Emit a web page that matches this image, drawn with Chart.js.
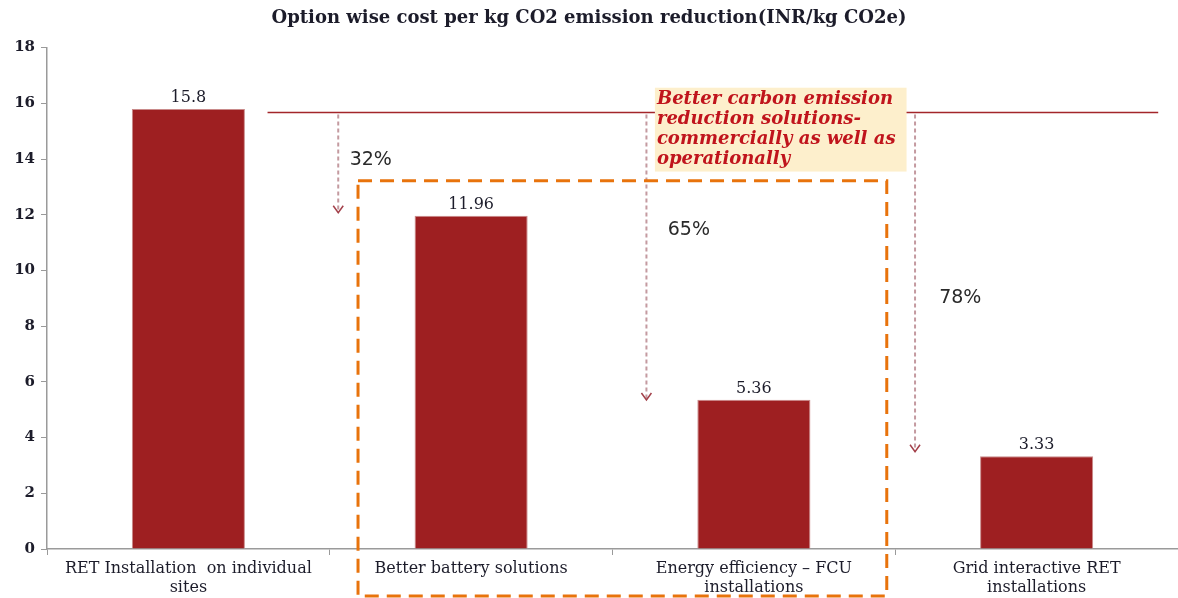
<!DOCTYPE html>
<html>
<head>
<meta charset="utf-8">
<script src="https://cdn.jsdelivr.net/npm/chart.js@4"></script>
<style>
  html, body { margin: 0; padding: 0; background: #fff; }
  #wrap { width: 1178px; height: 598px; }
</style>
</head>
<body>
<div id="wrap"><canvas id="costChart" width="1178" height="598"></canvas></div>
<script>
// Option wise cost per kg CO2 emission reduction

const optionLabels = [
  ["RET Installation  on individual", "sites"],
  ["Better battery solutions"],
  ["Energy efficiency \u2013 FCU", "installations"],
  ["Grid interactive RET", "installations"]
];
const costValues = [15.8, 11.96, 5.36, 3.33];
const costText = ["15.8", "11.96", "5.36", "3.33"];
const reductionText = ["32%", "65%", "78%"];
const yTicks = [0, 2, 4, 6, 8, 10, 12, 14, 16, 18];

const serif = "'DejaVu Serif', Georgia, serif";
const textColor = "#1c1c2a";

// annotations drawn on top of the bars (x in category units, y in axis values)
const overlayPlugin = {
  id: "overlay",
  afterDatasetsDraw(chart) {
    const ctx = chart.ctx;
    const x = chart.scales.x, y = chart.scales.y;
    const px = v => x.getPixelForValue(0) + v * (x.getPixelForValue(1) - x.getPixelForValue(0));

    // value labels over the bars
    const meta = chart.getDatasetMeta(0);
    ctx.save();
    ctx.font = "16px " + serif;
    ctx.fillStyle = textColor;
    ctx.textAlign = "center";
    ctx.textBaseline = "bottom";
    meta.data.forEach((bar, i) => {
      ctx.fillText(costText[i], bar.x, bar.y - 3);
    });

    // reference line at the first option's cost
    const topY = y.getPixelForValue(15.67);
    ctx.strokeStyle = "#a3262a";
    ctx.lineWidth = 1.5;
    ctx.beginPath();
    ctx.moveTo(px(0.28), topY);
    ctx.lineTo(px(3.43), topY);
    ctx.stroke();

    // dashed reduction arrows
    const arrows = [[0.53, 12.07], [1.62, 5.35], [2.57, 3.49]];
    arrows.forEach(a => {
      const ax = px(a[0]), ay = y.getPixelForValue(a[1]);
      ctx.strokeStyle = "#c49aa0";
      ctx.lineWidth = 2;
      ctx.setLineDash([4, 3]);
      ctx.beginPath();
      ctx.moveTo(ax, topY + 2);
      ctx.lineTo(ax, ay);
      ctx.stroke();
      ctx.setLineDash([]);
      ctx.strokeStyle = "#a3404a";
      ctx.lineWidth = 1.5;
      ctx.beginPath();
      ctx.moveTo(ax - 5, ay - 7);
      ctx.lineTo(ax, ay);
      ctx.lineTo(ax + 5, ay - 7);
      ctx.stroke();
    });

    // percentages
    const pctPos = [[0.645, 13.98], [1.77, 11.46], [2.73, 9.02]];
    ctx.font = "19px 'DejaVu Sans', Verdana, sans-serif";
    ctx.fillStyle = "#2a2a2a";
    ctx.textBaseline = "middle";
    pctPos.forEach((p, i) => {
      ctx.fillText(reductionText[i], px(p[0]), y.getPixelForValue(p[1]));
    });
    ctx.restore();
  },
  afterDraw(chart) {
    const ctx = chart.ctx;
    const x = chart.scales.x, y = chart.scales.y;
    const px = v => x.getPixelForValue(0) + v * (x.getPixelForValue(1) - x.getPixelForValue(0));
    ctx.save();

    // callout box
    const bx0 = px(1.65), bx1 = px(2.54);
    const by0 = y.getPixelForValue(16.56), by1 = y.getPixelForValue(13.55);
    ctx.fillStyle = "#fdefcc";
    ctx.fillRect(bx0, by0, bx1 - bx0, by1 - by0);
    ctx.fillStyle = "#c0141c";
    ctx.font = "italic bold 18px " + serif;
    ctx.textAlign = "left";
    ctx.textBaseline = "middle";
    const lines = ["Better carbon emission", "reduction solutions-", "commercially as well as", "operationally"];
    lines.forEach((t, i) => ctx.fillText(t, bx0 + 2, by0 + 12 + i * 20));

    // orange dashed grouping rectangle
    const rx0 = px(0.60), rx1 = px(2.47);
    const ry0 = y.getPixelForValue(13.22), ry1 = chart.height - 2;
    ctx.strokeStyle = "#e8730c";
    ctx.lineWidth = 3;
    ctx.setLineDash([14, 8]);
    ctx.strokeRect(rx0, ry0, rx1 - rx0, ry1 - ry0);
    ctx.restore();
  }
};

new Chart(document.getElementById("costChart").getContext("2d"), {
  type: "bar",
  data: {
    labels: optionLabels,
    datasets: [{
      data: costValues,
      backgroundColor: "#9e1f21",
      borderColor: "#c98a8a",
      borderWidth: 1,
      categoryPercentage: 1,
      barPercentage: 0.4
    }]
  },
  options: {
    responsive: false,
    animation: false,
    layout: { padding: 0 },
    plugins: {
      legend: { display: false },
      tooltip: { enabled: false },
      title: {
        display: true,
        text: "Option wise cost per kg CO2 emission reduction(INR/kg CO2e)",
        color: textColor,
        font: { family: serif, size: 18, weight: "bold" },
        padding: { top: 8, bottom: 18 }
      }
    },
    scales: {
      x: {
        afterFit: s => { s.height = 49; },
        grid: { display: true, offset: true, drawOnChartArea: false, color: "#9a9a9a", tickLength: 6 },
        border: { color: "#9a9a9a", width: 1.5 },
        ticks: { color: textColor, font: { family: serif, size: 16 }, maxRotation: 0, autoSkip: false, padding: 4 }
      },
      y: {
        min: 0,
        max: 18,
        afterFit: s => { s.width = 47; },
        afterBuildTicks: s => { s.ticks = yTicks.map(v => ({ value: v })); },
        grid: { drawOnChartArea: false, color: "#9a9a9a", tickLength: 6 },
        border: { color: "#9a9a9a", width: 1.5 },
        ticks: { color: textColor, font: { family: serif, size: 15, weight: "bold" }, padding: 6 }
      }
    }
  },
  plugins: [overlayPlugin]
});
</script>
</body>
</html>
